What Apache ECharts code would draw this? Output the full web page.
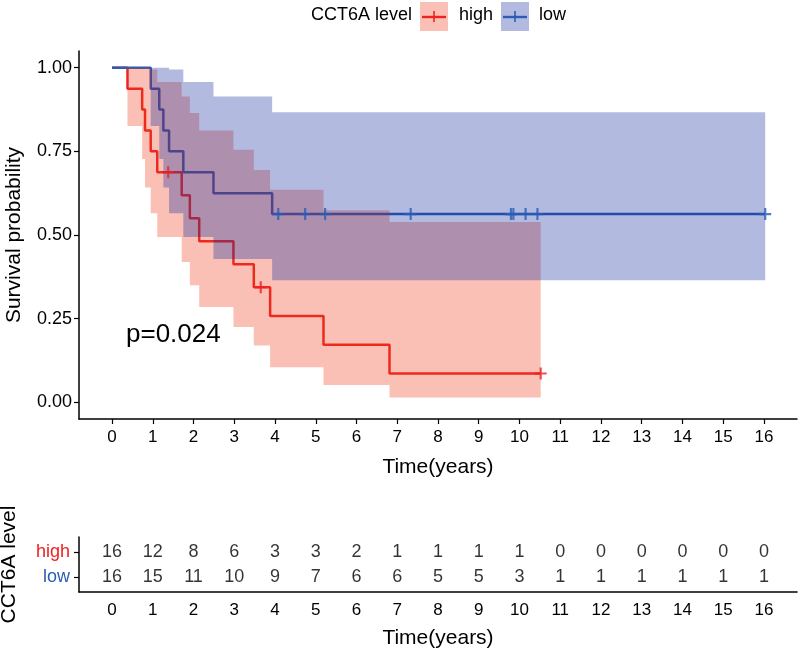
<!DOCTYPE html>
<html><head><meta charset="utf-8">
<script src="https://cdn.jsdelivr.net/npm/echarts@6/dist/echarts.min.js"></script>
<style>html,body{margin:0;padding:0;background:#fff}#c{width:800px;height:651px}</style>
</head><body><div id="c"></div>
<script>
// ---- data ----
const xTicks = [0,1,2,3,4,5,6,7,8,9,10,11,12,13,14,15,16];
const yTicks = [0, 0.25, 0.5, 0.75, 1];
const groupNames = ['high', 'low'];

const highTime  = [0, 0.38, 0.74, 0.81, 0.95, 1.11, 1.71, 1.91, 2.14, 2.98, 3.48, 3.88, 5.19, 6.81, 10.52];
const highSurv  = [1, 0.9375, 0.875, 0.8125, 0.75, 0.6875, 0.619, 0.55, 0.481, 0.4125, 0.344, 0.258, 0.172, 0.086, 0.086];
const highLower = [1, 0.826, 0.727, 0.642, 0.565, 0.494, 0.419, 0.350, 0.285, 0.225, 0.170, 0.105, 0.052, 0.014, 0.014];
const highUpper = [1, 1, 1, 1, 0.995, 0.957, 0.914, 0.865, 0.812, 0.755, 0.694, 0.635, 0.574, 0.539, 0.539];
const highCensorTime = [1.38, 3.65, 10.52];
const highCensorSurv = [0.6875, 0.344, 0.086];

const lowTime  = [0, 0.95, 1.16, 1.26, 1.40, 1.75, 2.49, 3.93, 16.03];
const lowSurv  = [1, 0.9375, 0.875, 0.8125, 0.75, 0.6875, 0.625, 0.5625, 0.5625];
const lowLower = [1, 0.826, 0.727, 0.642, 0.565, 0.494, 0.428, 0.365, 0.365];
const lowUpper = [1, 1, 1, 1, 0.995, 0.957, 0.914, 0.867, 0.867];
const lowCensorTime = [4.08, 4.74, 5.23, 7.33, 9.79, 9.85, 10.15, 10.44, 16.03];
const lowCensorSurv = [0.5625, 0.5625, 0.5625, 0.5625, 0.5625, 0.5625, 0.5625, 0.5625, 0.5625];

const riskTimes = [0,1,2,3,4,5,6,7,8,9,10,11,12,13,14,15,16];
const riskHigh  = [16,12,8,6,3,3,2,1,1,1,1,0,0,0,0,0,0];
const riskLow   = [16,15,11,10,9,7,6,6,5,5,3,1,1,1,1,1,1];
const pText = 'p=0.024';

// ---- styling ----
const RED = '#EE2222', BLUE = '#2B5CB5';
const RED_FILL = 'rgba(238,60,25,0.32)', BLUE_FILL = 'rgba(20,40,160,0.32)';
const FONT = 'Liberation Sans, Arial, sans-serif';
const PLUS = 'path://M-1.1,-6H1.1V-1.1H6V1.1H1.1V6H-1.1V1.1H-6V-1.1H-1.1Z';
const zip = (a, b) => a.map((v, i) => [v, b[i]]);

// confidence ribbon: one step-shaped polygon built through the axis scale (api.coord)
function bandSeries(name, t, lo, up, fill) {
  return {
    type: 'custom', name: name + '_band', silent: true, z: 4,
    data: t.map((v, i) => [v, lo[i], up[i]]),
    encode: { x: 0, y: [1, 2] },
    renderItem: (params, api) => {
      if (params.dataIndexInside !== 0) return null;
      const n = t.length, pts = [];
      for (let i = 0; i < n; i++) {
        pts.push(api.coord([t[i], up[i]]));
        if (i < n - 1) pts.push(api.coord([t[i + 1], up[i]]));
      }
      for (let i = n - 1; i >= 0; i--) {
        if (i < n - 1) pts.push(api.coord([t[i + 1], lo[i]]));
        pts.push(api.coord([t[i], lo[i]]));
      }
      return { type: 'polygon', shape: { points: pts }, style: { fill: fill } };
    }
  };
}

const axLine = { show: true, onZero: false, lineStyle: { color: '#000', width: 1.5 } };
const tickStyle = { color: '#000', width: 1.2 };

const option = {
  animation: false,
  backgroundColor: '#fff',
  grid: [
    { left: 79, right: 3, top: 51, height: 368, containLabel: false, outerBoundsMode: 'none' },
    { left: 79, right: 3, top: 537, height: 55, containLabel: false, outerBoundsMode: 'none' }
  ],
  xAxis: [
    {
      type: 'value', gridIndex: 0, min: -0.81, max: 16.81,
      axisLine: axLine, splitLine: { show: false },
      axisTick: { show: true, length: 5, customValues: xTicks, lineStyle: tickStyle },
      axisLabel: { customValues: xTicks, fontSize: 17, color: '#000', fontFamily: FONT, margin: 10 },
      name: 'Time(years)', nameLocation: 'middle', nameGap: 38,
      nameTextStyle: { fontSize: 21, color: '#000', fontFamily: FONT }
    },
    {
      type: 'value', gridIndex: 1, min: -0.81, max: 16.81,
      axisLine: axLine, splitLine: { show: false },
      axisTick: { show: false },
      axisLabel: { customValues: xTicks, fontSize: 17, color: '#000', fontFamily: FONT, margin: 10 },
      name: 'Time(years)', nameLocation: 'middle', nameGap: 36,
      nameTextStyle: { fontSize: 21, color: '#000', fontFamily: FONT }
    }
  ],
  yAxis: [
    {
      type: 'value', gridIndex: 0, min: -0.05, max: 1.05,
      axisLine: axLine, splitLine: { show: false },
      axisTick: { show: true, length: 5, customValues: yTicks, lineStyle: tickStyle },
      axisLabel: { customValues: yTicks, fontSize: 18, color: '#000', fontFamily: FONT, margin: 7,
        formatter: v => v.toFixed(2) },
      name: 'Survival probability', nameLocation: 'middle', nameGap: 54,
      nameTextStyle: { fontSize: 21, color: '#000', fontFamily: FONT }
    },
    {
      type: 'value', gridIndex: 1, min: 0.4, max: 2.6,
      axisLine: axLine, splitLine: { show: false },
      axisTick: { show: true, length: 5, customValues: [1, 2], lineStyle: tickStyle },
      axisLabel: { customValues: [1, 2], fontSize: 18, fontFamily: FONT, margin: 9,
        formatter: v => v === 2 ? '{h|' + groupNames[0] + '}' : '{l|' + groupNames[1] + '}',
        rich: { h: { color: RED, fontSize: 18, fontFamily: FONT }, l: { color: BLUE, fontSize: 18, fontFamily: FONT } } },
      name: 'CCT6A level', nameLocation: 'middle', nameGap: 59,
      nameTextStyle: { fontSize: 21, color: '#000', fontFamily: FONT }
    }
  ],
  series: [
    { type: 'line', name: 'high', data: zip(highTime, highSurv), step: 'end', symbol: 'none',
      lineStyle: { color: RED, width: 2.5 }, z: 3 },
    { type: 'line', name: 'low', data: zip(lowTime, lowSurv), step: 'end', symbol: 'none',
      lineStyle: { color: BLUE, width: 2.5 }, z: 3 },
    bandSeries('high', highTime, highLower, highUpper, RED_FILL),
    bandSeries('low', lowTime, lowLower, lowUpper, BLUE_FILL),
    { type: 'scatter', name: 'highCensor', data: zip(highCensorTime, highCensorSurv), symbol: PLUS, symbolSize: 12,
      itemStyle: { color: RED }, z: 6 },
    { type: 'scatter', name: 'lowCensor', data: zip(lowCensorTime, lowCensorSurv), symbol: PLUS, symbolSize: 12,
      itemStyle: { color: BLUE }, z: 6 },
    { type: 'scatter', xAxisIndex: 1, yAxisIndex: 1, symbolSize: 0,
      data: riskTimes.map((t, i) => [t, 2, riskHigh[i]]),
      label: { show: true, position: 'inside', formatter: p => String(p.value[2]), fontSize: 18, color: '#000', fontFamily: FONT } },
    { type: 'scatter', xAxisIndex: 1, yAxisIndex: 1, symbolSize: 0,
      data: riskTimes.map((t, i) => [t, 1, riskLow[i]]),
      label: { show: true, position: 'inside', formatter: p => String(p.value[2]), fontSize: 18, color: '#000', fontFamily: FONT } }
  ],
  graphic: [
    { type: 'text', left: 126, top: 322, z: 10, style: { text: pText, font: '26px ' + FONT, fill: '#000' } },
    // legend
    { type: 'text', left: 311, top: 6, style: { text: 'CCT6A level', font: '18px ' + FONT, fill: '#000' } },
    { type: 'rect', shape: { x: 420, y: 2, width: 28, height: 29 }, style: { fill: RED_FILL } },
    { type: 'line', shape: { x1: 422, y1: 17, x2: 446, y2: 17 }, style: { stroke: RED, lineWidth: 2.4 } },
    { type: 'line', shape: { x1: 434, y1: 11, x2: 434, y2: 22 }, style: { stroke: RED, lineWidth: 1.6 } },
    { type: 'text', left: 459, top: 6, style: { text: groupNames[0], font: '18px ' + FONT, fill: '#000' } },
    { type: 'rect', shape: { x: 501, y: 2, width: 28, height: 29 }, style: { fill: BLUE_FILL } },
    { type: 'line', shape: { x1: 503, y1: 17, x2: 527, y2: 17 }, style: { stroke: BLUE, lineWidth: 2.4 } },
    { type: 'line', shape: { x1: 515, y1: 11, x2: 515, y2: 22 }, style: { stroke: BLUE, lineWidth: 1.6 } },
    { type: 'text', left: 539, top: 6, style: { text: groupNames[1], font: '18px ' + FONT, fill: '#000' } }
  ]
};

const chart = echarts.init(document.getElementById('c'), null, { renderer: 'canvas' });
chart.setOption(option);
</script>
</body></html>
